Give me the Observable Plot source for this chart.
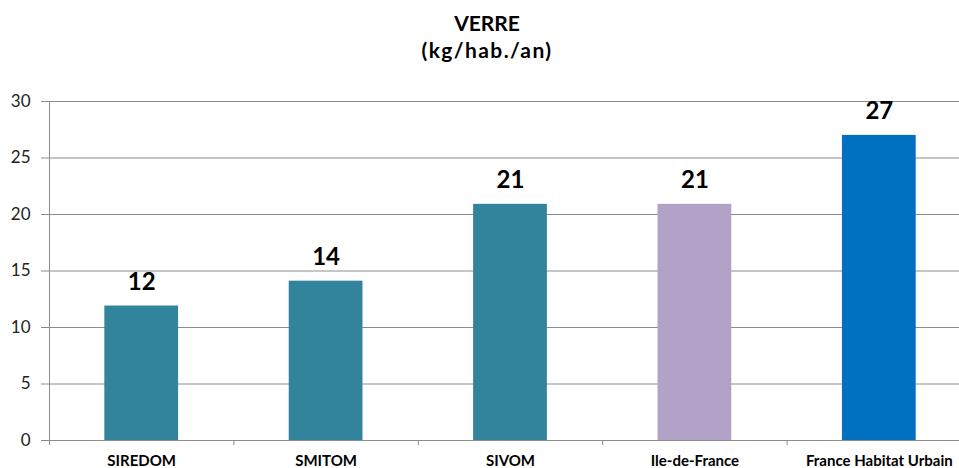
<!DOCTYPE html>
<html><head><meta charset="utf-8">
<script src="https://cdn.jsdelivr.net/npm/d3@7"></script>
<script src="https://cdn.jsdelivr.net/npm/@observablehq/plot@0.6"></script>
<style>
html,body{margin:0;padding:0;overflow:hidden;background:#fff;width:959px;height:468px}
#wrap{width:971px;font-family:Lato,sans-serif}
#title{height:80px;position:relative}
#title div{position:absolute;left:0;width:974px;text-align:center;font-weight:bold;font-size:21px;line-height:24px;color:#000}
</style></head><body>
<div id="wrap">
  <div id="title"><div style="top:11px">VERRE</div><div style="top:38px;letter-spacing:1.4px">(kg/hab./an)</div></div>
  <div id="chart"></div>
</div>
<script>
const categories = ["SIREDOM", "SMITOM", "SIVOM", "Ile-de-France", "France Habitat Urbain"];
const values = [11.9, 14.1, 20.9, 20.9, 27.0];
const valueLabels = ["12", "14", "21", "21", "27"];
const barColors = ["#31849B", "#31849B", "#31849B", "#B3A2C7", "#0070C0"];
const yTicks = [0, 5, 10, 15, 20, 25, 30];

const data = categories.map((c, i) => ({cat: c, i, value: values[i], label: valueLabels[i], color: barColors[i]}));
const gray = "#8c8c8c";

const chart = Plot.plot({
  width: 971,
  height: 388,
  marginTop: 21,
  marginBottom: 28,
  marginLeft: 49,
  marginRight: 0,
  style: {fontFamily: "Lato, sans-serif", background: "white"},
  x: {domain: [0, categories.length]},
  y: {domain: [0, 30]},
  color: {type: "identity"},
  marks: [
    Plot.ruleY(yTicks.slice(1), {stroke: gray, strokeWidth: 1}),
    Plot.rectY(data, {x1: d => d.i + 0.3, x2: d => d.i + 0.7, y: "value", fill: d => d.color}),
    Plot.ruleY([0], {stroke: gray}),
    Plot.ruleX([0], {stroke: gray}),
    Plot.axisY({ticks: yTicks, tickSize: 8, tickPadding: 11, fontSize: 17, stroke: gray, fill: "#222", label: null, tickFormat: d => String(d)}),
    Plot.axisX({ticks: d3.range(categories.length), tickSize: 5, stroke: gray, tickFormat: () => "", label: null}),
    Plot.axisX({ticks: categories.map((c, i) => i + 0.5), tickSize: 0, tickPadding: 15, fontSize: 15, fontWeight: "bold", fill: "#000", label: null, tickFormat: v => categories[Math.floor(v)]}),
    Plot.text(data, {x: d => d.i + 0.5, y: "value", text: "label", dy: -24, fontSize: 24, fontWeight: "bold", fill: "#000"})
  ]
});
document.getElementById("chart").appendChild(chart);
</script>
</body></html>
